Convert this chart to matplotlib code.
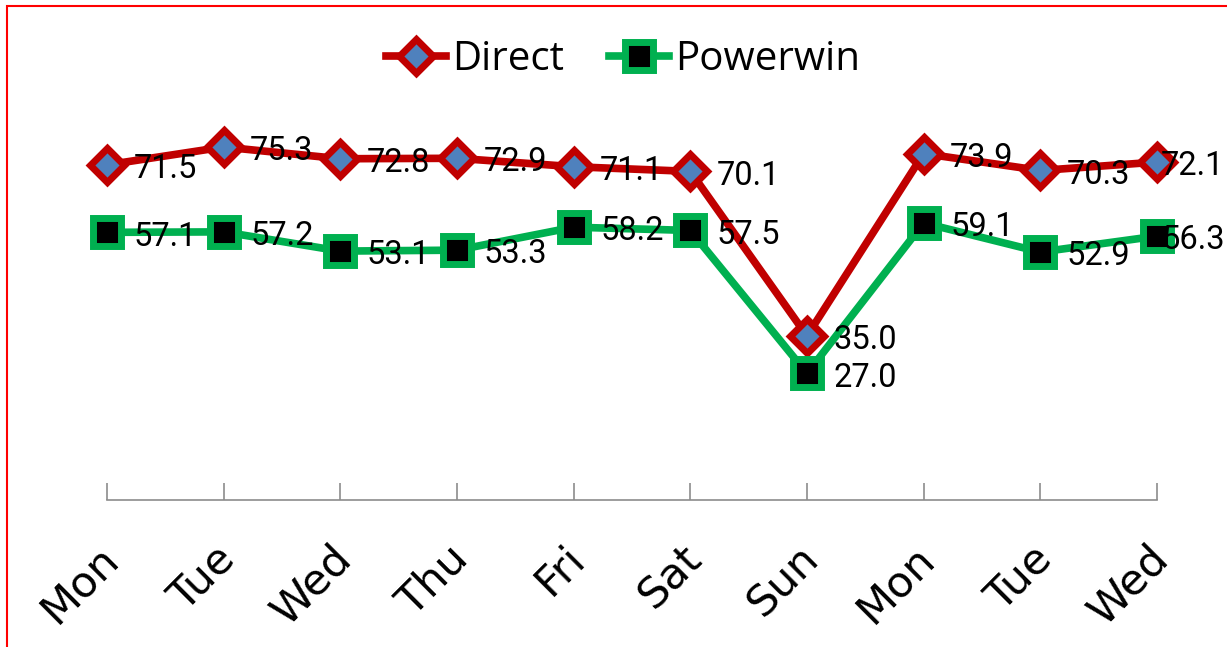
import matplotlib.pyplot as plt
import matplotlib.transforms as mtransforms
from matplotlib.patches import Rectangle

days = ["Mon", "Tue", "Wed", "Thu", "Fri", "Sat", "Sun", "Mon", "Tue", "Wed"]
direct = [71.5, 75.3, 72.8, 72.9, 71.1, 70.1, 35.0, 73.9, 70.3, 72.1]
powerwin = [57.1, 57.2, 53.1, 53.3, 58.2, 57.5, 27.0, 59.1, 52.9, 56.3]

fig = plt.figure(figsize=(12.27, 6.47), dpi=100)
ax = fig.add_axes([107 / 1227, 1 - 500 / 647, 1050 / 1227, 375 / 647])

x = list(range(len(days)))
ax.plot(x, direct, color="#C00000", lw=5.5, marker="D", ms=17, mfc="#4F81BD",
        mec="#C00000", mew=5, label="Direct", clip_on=False, zorder=3)
ax.plot(x, powerwin, color="#00B050", lw=5.5, marker="s", ms=20, mfc="black",
        mec="#00B050", mew=5, label="Powerwin", clip_on=False, zorder=3)

# data labels to the right of each point (last one pushed back to fit)
for series in (direct, powerwin):
    for xi, v in zip(x, series):
        dx = 19 if xi < len(x) - 1 else 3
        ax.annotate(f"{v:.1f}", (xi, v), xytext=(dx, -3), textcoords="offset points",
                    ha="left", va="center", fontsize=23.5, family="Roboto", zorder=4)

ax.set_xlim(0, 9)
ax.set_ylim(0, 80)
ax.set_yticks([])
for s in ["left", "right", "top"]:
    ax.spines[s].set_visible(False)
ax.spines["bottom"].set_color("#8C8C8C")
ax.spines["bottom"].set_linewidth(1.2)

ax.set_xticks(x)
ax.set_xticklabels(days, rotation=45, ha="right", fontsize=31, family="DejaVu Sans")
ax.tick_params(axis="x", direction="in", length=12, width=1.2, color="#8C8C8C", pad=27)
offset = mtransforms.ScaledTranslation(14 / 72, 0, fig.dpi_scale_trans)
for lab in ax.get_xticklabels():
    lab.set_transform(lab.get_transform() + offset)

fig.legend(loc="center", bbox_to_anchor=(623 / 1227, 1 - 60 / 647), ncol=2,
           frameon=False, prop={"family": "Open Sans", "size": 29},
           handlelength=1.5, handletextpad=0.15, columnspacing=1.1)

fig.add_artist(Rectangle((7 / 1227, -0.05), 1.1, 1.05 - 6 / 647,
                         transform=fig.transFigure, fill=False,
                         edgecolor="red", lw=1.5))

fig.savefig("out.png", dpi=100)
